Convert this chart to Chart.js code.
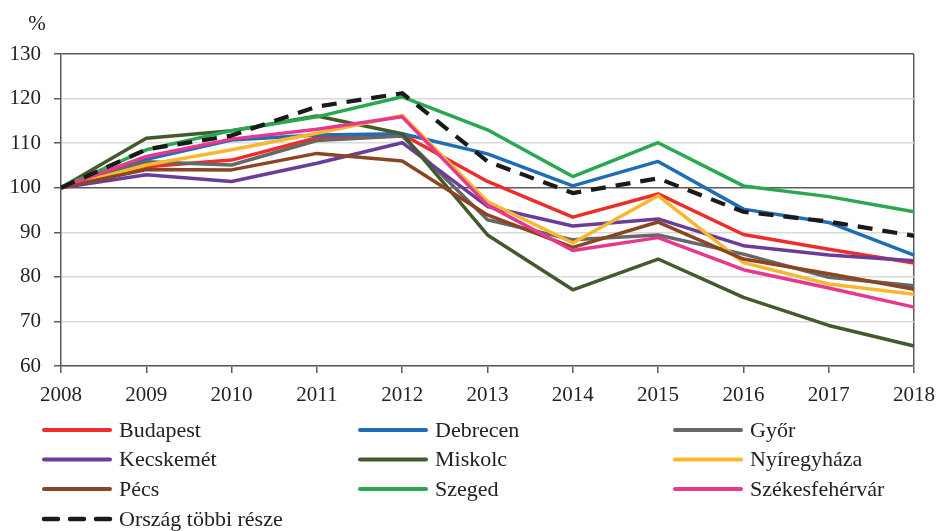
<!DOCTYPE html>
<html>
<head>
<meta charset="utf-8">
<script src="https://cdn.jsdelivr.net/npm/chart.js@4"></script>
<style>
  html, body { margin: 0; padding: 0; background: #fff; }
  #wrap { width: 938px; height: 531px; }
</style>
</head>
<body>
<div id="wrap"><canvas id="lineChart" width="938" height="531"></canvas></div>
<script>
const years = ['2008', '2009', '2010', '2011', '2012', '2013', '2014', '2015', '2016', '2017', '2018'];

const budapest      = [100, 104.7, 106.2, 111.2, 112.0, 101.4, 93.4, 98.6, 89.5, 86.2, 83.1];
const debrecen      = [100, 106.4, 110.7, 111.8, 112.1, 107.6, 100.4, 105.9, 95.2, 92.2, 84.9];
const gyor          = [100, 105.8, 105.1, 110.6, 111.6, 92.8, 88.3, 89.4, 85.1, 79.9, 78.0];
const kecskemet     = [100, 102.9, 101.4, 105.5, 110.1, 95.8, 91.4, 93.0, 87.0, 84.9, 83.6];
const miskolc       = [100, 111.1, 112.8, 116.1, 112.1, 89.4, 77.1, 84.0, 75.4, 69.1, 64.5];
const nyiregyhaza   = [100, 105.1, 108.5, 112.2, 116.2, 96.9, 87.6, 98.2, 83.2, 78.4, 76.1];
const pecs          = [100, 104.1, 104.0, 107.7, 106.0, 93.9, 86.6, 92.3, 84.0, 80.7, 77.2];
const szeged        = [100, 108.5, 112.8, 115.9, 120.4, 113.0, 102.5, 110.1, 100.4, 98.0, 94.6];
const szekesfehervar = [100, 107.0, 110.9, 113.1, 115.9, 96.1, 85.9, 88.8, 81.6, 77.5, 73.2];
const orszag        = [100, 108.6, 111.7, 118.2, 121.2, 105.9, 98.8, 102.1, 94.6, 92.4, 89.2];

const yTicks = [60, 70, 80, 90, 100, 110, 120, 130];

const FONT = '"Liberation Serif", "DejaVu Serif", serif';

const series = [
    { label: 'Budapest', data: budapest, color: '#ee2d2a' },
    { label: 'Debrecen', data: debrecen, color: '#1f6db5' },
    { label: 'Győr', data: gyor, color: '#676767' },
    { label: 'Kecskemét', data: kecskemet, color: '#6a3d9a' },
    { label: 'Miskolc', data: miskolc, color: '#435a2c' },
    { label: 'Nyíregyháza', data: nyiregyhaza, color: '#f8b72c' },
    { label: 'Pécs', data: pecs, color: '#8a4522' },
    { label: 'Szeged', data: szeged, color: '#2aa84f' },
    { label: 'Székesfehérvár', data: szekesfehervar, color: '#e6388e' },
    { label: 'Ország többi része', data: orszag, color: '#1a1a1a', dash: [15, 10] }
];

const datasets = series.map((s, i) => ({
    label: s.label,
    data: s.data,
    borderColor: s.color,
    backgroundColor: s.color,
    borderWidth: s.dash ? 4.2 : 3.5,
    borderDash: s.dash || [],
    borderJoinStyle: 'round',
    pointRadius: 0,
    tension: 0,
    fill: false,
    order: series.length - i
}));

// legend + % label drawn on the canvas
const legendPlugin = {
    id: 'customLegend',
    afterDraw(chart) {
        const ctx = chart.ctx;
        ctx.save();
        ctx.fillStyle = '#222';
        ctx.font = '21px ' + FONT;
        ctx.textAlign = 'center';
        ctx.textBaseline = 'middle';
        ctx.fillText('%', 37, 24);

        const cols = [42, 358, 673];
        const rows = [430, 459.5, 489, 519];
        ctx.font = '22px ' + FONT;
        ctx.textAlign = 'left';
        series.forEach((s, i) => {
            const x = cols[i % 3];
            const y = rows[Math.floor(i / 3)];
            ctx.beginPath();
            ctx.strokeStyle = s.color;
            ctx.lineWidth = s.dash ? 4.5 : 4;
            ctx.lineCap = 'round';
            ctx.setLineDash(s.dash ? [14, 12] : []);
            ctx.moveTo(x + 2, y);
            ctx.lineTo(x + 68, y);
            ctx.stroke();
            ctx.setLineDash([]);
            ctx.fillStyle = '#222';
            ctx.fillText(s.label, x + 77, y + 1);
        });
        ctx.restore();
    }
};

const ctx = document.getElementById('lineChart').getContext('2d');
const chart = new Chart(ctx, {
    type: 'line',
    data: {
        labels: years,
        datasets: datasets
    },
    options: {
        responsive: false,
        animation: false,
        layout: {
            padding: { left: 0, right: 24, top: 54, bottom: 130 }
        },
        plugins: {
            legend: { display: false },
            tooltip: { enabled: false }
        },
        scales: {
            x: {
                grid: {
                    color: (c) => c.index === years.length - 1 ? '#5a5a5a' : 'rgba(0,0,0,0)',
                    lineWidth: 1.5,
                    tickLength: 7,
                    tickColor: '#5a5a5a',
                    tickWidth: 1.5
                },
                border: { color: '#5a5a5a', width: 1.5 },
                ticks: {
                    color: '#222',
                    font: { family: FONT, size: 21 },
                    padding: 10,
                    maxRotation: 0,
                    autoSkip: false
                },
                afterFit: (s) => { s.height = 35; s.paddingLeft = 0; s.paddingRight = 0; }
            },
            y: {
                min: 60,
                max: 130,
                afterBuildTicks: (s) => { s.ticks = yTicks.map(v => ({ value: v })); },
                grid: {
                    color: (c) => (c.tick && (c.tick.value === 100 || c.tick.value === 130)) ? '#5a5a5a' : '#d9d9d9',
                    lineWidth: 1.5,
                    tickLength: 7,
                    tickColor: '#5a5a5a',
                    tickWidth: 1.5
                },
                border: { color: '#5a5a5a', width: 1.5 },
                ticks: {
                    color: '#222',
                    font: { family: FONT, size: 21 },
                    padding: 13
                },
                afterFit: (s) => { s.width = 61; s.paddingTop = 0; s.paddingBottom = 0; }
            }
        }
    },
    plugins: [legendPlugin]
});
</script>
</body>
</html>
